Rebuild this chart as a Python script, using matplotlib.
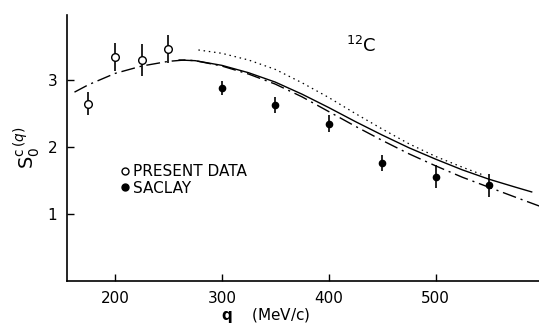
import matplotlib.pyplot as plt
from matplotlib.lines import Line2D

# present data (open circles)
q_present = [175, 200, 225, 250]
s_present = [2.65, 3.34, 3.30, 3.46]
e_present = [0.17, 0.21, 0.24, 0.21]

# Saclay (filled circles)
q_saclay = [300, 350, 400, 450, 500, 550]
s_saclay = [2.88, 2.63, 2.35, 1.76, 1.56, 1.43]
e_saclay = [0.11, 0.12, 0.13, 0.12, 0.17, 0.17]

# theory curves
q_solid = [260, 275, 300, 325, 350, 375, 400, 425, 450, 475, 500, 525, 550, 575, 590]
s_solid = [3.30, 3.29, 3.22, 3.11, 2.97, 2.79, 2.59, 2.38, 2.18, 1.99, 1.82, 1.66, 1.52, 1.40, 1.33]

q_dashdot = [162, 175, 200, 225, 250, 265, 275, 300, 325, 350, 375, 400, 425, 450, 475, 500, 525, 550, 575, 597]
s_dashdot = [2.82, 2.93, 3.10, 3.21, 3.28, 3.30, 3.29, 3.21, 3.09, 2.94, 2.75, 2.53, 2.31, 2.10, 1.90, 1.72, 1.55, 1.40, 1.25, 1.12]

q_dotted = [278, 300, 325, 350, 375, 400, 425, 450, 475, 500, 525, 545]
s_dotted = [3.45, 3.40, 3.30, 3.16, 2.96, 2.74, 2.50, 2.27, 2.05, 1.86, 1.70, 1.58]

fig = plt.figure(figsize=(5.39, 3.27), dpi=100)
ax = fig.add_axes([0.1243, 0.1407, 0.876, 0.813])

ax.plot(q_solid, s_solid, color='black', lw=1.0)
ax.plot(q_dashdot, s_dashdot, color='black', lw=1.0, dashes=(10, 3.5, 1.5, 3.5))
ax.plot(q_dotted, s_dotted, color='black', lw=0.9, dashes=(1.2, 3))

ax.errorbar(q_present, s_present, yerr=e_present, fmt='o', mfc='white', mec='black',
            ms=5.5, mew=1.0, ecolor='black', elinewidth=1.2, capsize=0, zorder=5)
ax.errorbar(q_saclay, s_saclay, yerr=e_saclay, fmt='o', color='black',
            ms=4.5, ecolor='black', elinewidth=1.2, capsize=0, zorder=5)

handles = [Line2D([], [], ls='none', marker='o', mfc='white', mec='black', ms=5),
           Line2D([], [], ls='none', marker='o', color='black', ms=5)]
ax.legend(handles, ['PRESENT DATA', 'SACLAY'], loc='center left',
          bbox_to_anchor=(0.1, 0.38), frameon=False, fontsize=11,
          handlelength=0.4, handletextpad=0.3, labelspacing=0.1, borderpad=0)

ax.text(430, 3.42, r'$^{12}$C', fontsize=13, ha='center')

ax.set_xlim(155, 597)
ax.set_ylim(0, 3.97)
ax.set_xticks([200, 300, 400, 500])
ax.set_yticks([1, 2, 3])
ax.tick_params(direction='in', length=5, width=1, labelsize=11, pad=7)
for s in ['top', 'right']:
    ax.spines[s].set_visible(False)
for s in ['left', 'bottom']:
    ax.spines[s].set_linewidth(1.2)

ax.set_xlabel(r'$\mathbf{q}$    (MeV/c)', fontsize=11)
ax.xaxis.set_label_coords(0.42, -0.095)
ax.set_ylabel(r'$\mathrm{S}_0^{\mathrm{c}\,(q)}$', fontsize=14, labelpad=4)

fig.savefig('out.png', dpi=100)
